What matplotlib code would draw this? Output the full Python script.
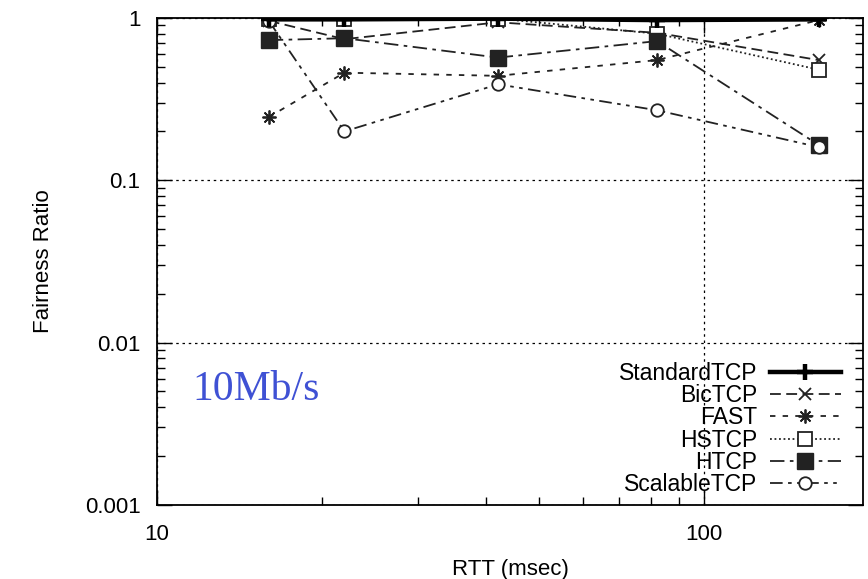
import numpy as np
import matplotlib.pyplot as plt

# RTT in msec, fairness ratio per TCP variant (10Mb/s)
rtt = [16, 22, 42, 82, 162]
standard_tcp = [0.98, 0.98, 0.99, 0.97, 0.98]
bic_tcp = [0.96, 0.74, 0.94, 0.81, 0.55]
fast_tcp = [0.245, 0.46, 0.44, 0.55, 0.97]
hs_tcp = [0.98, 0.98, 0.99, 0.80, 0.48]
h_tcp = [0.73, 0.75, 0.57, 0.72, 0.165]
scalable_tcp = [0.96, 0.20, 0.39, 0.27, 0.16]

plt.rcParams['font.family'] = ['Liberation Sans', 'DejaVu Sans']

fig = plt.figure(figsize=(8.68, 5.79), dpi=100)
ax = fig.add_axes([0.181, 0.128, 0.813, 0.841])

asterisk = (8, 2, 0)
ax.plot(rtt, standard_tcp, '-', color='black', lw=3.2, marker='+', ms=12, mew=3.2,
        label='StandardTCP', zorder=6)
ax.plot(rtt, bic_tcp, color='#222222', lw=1.3, ls=(0, (6, 3)), marker='x', ms=8, mew=1.3,
        label='BicTCP')
ax.plot(rtt, fast_tcp, color='#222222', lw=1.3, ls=(0, (3, 4)), marker=asterisk, ms=10, mew=1.3,
        label='FAST')
ax.plot(rtt, hs_tcp, color='#222222', lw=1.3, ls=(0, (1, 1.5)), marker='s', ms=10, mew=1.3,
        mfc='white', label='HSTCP')
ax.plot(rtt, h_tcp, color='#222222', lw=1.3, ls=(0, (8, 3, 2, 3)), marker='s', ms=11,
        label='HTCP')
ax.plot(rtt, scalable_tcp, color='#222222', lw=1.3, ls=(0, (7, 3, 2, 3, 2, 3)), marker='o', ms=9,
        mew=1.3, mfc='white', label='ScalableTCP')

ax.set_xscale('log')
ax.set_yscale('log')
ax.set_xlim(10, 195)
ax.set_ylim(0.001, 1)
ax.set_xticks([10, 100])
ax.set_xticklabels(['10', '100'])
ax.set_yticks([0.001, 0.01, 0.1, 1])
ax.set_yticklabels(['0.001', '0.01', '0.1', '1'])
ax.tick_params(which='both', direction='in', top=True, right=True, labelsize=16, width=1)
ax.tick_params(which='major', length=11, pad=12)
ax.tick_params(which='minor', length=6)
ax.tick_params(axis='x', which='major', pad=14)
for s in ax.spines.values():
    s.set_linewidth(1.3)

ax.grid(True, which='major', ls=(0, (2, 3)), color='black', lw=0.9)

ax.set_xlabel('RTT (msec)', fontsize=16, labelpad=10)
ax.set_ylabel('Fairness Ratio', fontsize=16, labelpad=22)

ax.text(0.05, 0.236, '10Mb/s', transform=ax.transAxes, fontsize=30,
        family='Liberation Serif', color='#3f51d4', va='center', ha='left')

ax.legend(loc='lower right', bbox_to_anchor=(0.995, -0.02), frameon=False,
          markerfirst=False, fontsize=16.5, handlelength=3.1, handletextpad=0.55,
          labelspacing=-0.03, borderpad=0.3)

fig.savefig('out.png', dpi=100)
